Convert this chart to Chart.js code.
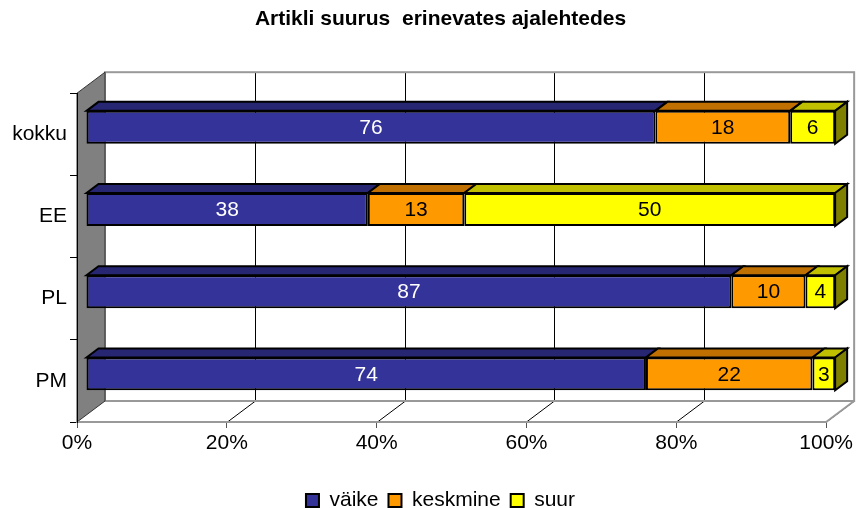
<!DOCTYPE html>
<html>
<head>
<meta charset="utf-8">
<script src="https://cdn.jsdelivr.net/npm/chart.js@4.4.1/dist/chart.umd.min.js"></script>
<style>
body { margin: 0; background: #fff; }
</style>
</head>
<body>
<canvas id="chart" width="856" height="508"></canvas>
<script>
// === Andmed ===
const categories = ["kokku", "EE", "PL", "PM"];
const seriesNames = ["väike", "keskmine", "suur"];
const vaike = [76, 38, 87, 74];
const keskmine = [18, 13, 10, 22];
const suur = [6, 50, 4, 3];
const xTicks = [0, 20, 40, 60, 80, 100];

// värvid: esikülg, pealmine külg, parem külg
const frontColors = ["#333399", "#FF9900", "#FFFF00"];
const topColors = ["#262673", "#C07000", "#C0C000"];
const sideColors = ["#1A1A4D", "#804B00", "#808000"];

const FONT = "'Liberation Sans', Arial, sans-serif";

// 100% tulbad: iga rida jagatakse oma summaga
const raw = [vaike, keskmine, suur];
const rowSum = categories.map((_, i) => raw.reduce((s, arr) => s + arr[i], 0));
const pct = raw.map(arr => arr.map((v, i) => v / rowSum[i] * 100));

// === 3D sügavus ===
const WALL = { dx: 28, dy: -21 };
const BAR_SHIFT = { dx: 9, dy: -7 };
const BAR_DEPTH = { dx: 12, dy: -9 };
const TITLE_SHIFT = 27; // pealkiri ja legend veidi paremale

function poly(ctx, pts, fill, stroke, lw) {
	ctx.beginPath();
	ctx.moveTo(pts[0][0], pts[0][1]);
	for (let k = 1; k < pts.length; k++) ctx.lineTo(pts[k][0], pts[k][1]);
	ctx.closePath();
	if (fill) { ctx.fillStyle = fill; ctx.fill(); }
	if (stroke) { ctx.strokeStyle = stroke; ctx.lineWidth = lw || 1; ctx.stroke(); }
}

const box3d = {
	id: "box3d",
	afterLayout(chart) {
		[chart.titleBlock, chart.legend].forEach((b) => {
			if (!b) return;
			b.left += TITLE_SHIFT;
			b.right += TITLE_SHIFT;
		});
	},
	beforeDraw(chart) {
		const { ctx, chartArea: a, scales } = chart;
		const { dx, dy } = WALL;
		ctx.save();
		// tagasein
		ctx.fillStyle = "#fff";
		ctx.fillRect(a.left + dx, a.top + dy, a.right - a.left, a.bottom - a.top);
		// ruudujooned tagaseinal ja põrandal
		ctx.lineWidth = 1;
		ctx.strokeStyle = "#000";
		xTicks.forEach((t) => {
			const x = Math.round(scales.x.getPixelForValue(t)) + 0.5;
			if (t !== 0 && t !== 100) {
				ctx.beginPath();
				ctx.moveTo(x + dx, a.top + dy);
				ctx.lineTo(x + dx, a.bottom + dy);
				ctx.stroke();
			}
			if (t !== 0) {
				ctx.beginPath();
				ctx.moveTo(x, a.bottom);
				ctx.lineTo(x + dx, a.bottom + dy);
				ctx.stroke();
			}
		});
		ctx.strokeStyle = "#999";
		ctx.lineWidth = 2;
		ctx.strokeRect(a.left + dx, a.top + dy, a.right - a.left, a.bottom - a.top);
		// põranda parem serv
		ctx.beginPath();
		ctx.moveTo(a.right, a.bottom);
		ctx.lineTo(a.right + dx, a.bottom + dy);
		ctx.stroke();
		// külgsein
		poly(ctx, [
			[a.left, a.top],
			[a.left + dx, a.top + dy],
			[a.left + dx, a.bottom + dy],
			[a.left, a.bottom],
		], "#808080", "#333", 1);
		ctx.restore();
	},
	beforeDatasetsDraw(chart) {
		const ctx = chart.ctx;
		ctx.save();
		ctx.translate(BAR_SHIFT.dx, BAR_SHIFT.dy);
		const { dx, dy } = BAR_DEPTH;
		const last = chart.data.datasets.length - 1;
		chart.data.datasets.forEach((ds, di) => {
			chart.getDatasetMeta(di).data.forEach((bar) => {
				const p = bar.getProps(["x", "y", "base", "height"], true);
				const left = Math.min(p.x, p.base), right = Math.max(p.x, p.base);
				const top = p.y - p.height / 2, bottom = p.y + p.height / 2;
				poly(ctx, [
					[left, top], [left + dx, top + dy],
					[right + dx, top + dy], [right, top],
				], topColors[di], "#000", 2);
				if (di === last) {
					poly(ctx, [
						[right, top], [right + dx, top + dy],
						[right + dx, bottom + dy], [right, bottom],
					], sideColors[di], "#000", 2);
				}
			});
		});
	},
	afterDatasetsDraw(chart) {
		const ctx = chart.ctx;
		ctx.font = "21px " + FONT;
		ctx.textAlign = "center";
		ctx.textBaseline = "middle";
		chart.data.datasets.forEach((ds, di) => {
			chart.getDatasetMeta(di).data.forEach((bar, i) => {
				const p = bar.getProps(["x", "y", "base"], true);
				ctx.fillStyle = di === 0 ? "#fff" : "#000";
				ctx.fillText(String(raw[di][i]), (p.x + p.base) / 2, p.y + 1);
			});
		});
		ctx.restore();
	},
};

new Chart(document.getElementById("chart"), {
	type: "bar",
	data: {
		labels: categories,
		datasets: seriesNames.map((name, di) => ({
			label: name,
			data: pct[di],
			backgroundColor: frontColors[di],
			borderColor: "#000",
			borderWidth: 2,
			borderSkipped: false,
			categoryPercentage: 1,
			barPercentage: 0.4,
			clip: false,
		})),
	},
	plugins: [box3d],
	options: {
		indexAxis: "y",
		responsive: false,
		animation: false,
		layout: { padding: { left: 0, right: 29, top: 0, bottom: -13 } },
		plugins: {
			tooltip: { enabled: false },
			title: {
				display: true,
				text: "Artikli suurus  erinevates ajalehtedes",
				color: "#000",
				font: { family: FONT, size: 21, weight: "bold", lineHeight: 1.2 },
				padding: { top: 7, bottom: 61 },
			},
			legend: {
				position: "bottom",
				labels: {
					color: "#000",
					font: { family: FONT, size: 21 },
					boxWidth: 13,
					boxHeight: 13,
					padding: 10,
				},
			},
		},
		scales: {
			x: {
				stacked: true,
				min: 0,
				max: 100,
				afterFit: (s) => { s.height = 58; },
				afterBuildTicks: (s) => { s.ticks = xTicks.map((v) => ({ value: v })); },
				ticks: {
					color: "#000",
					font: { family: FONT, size: 21 },
					padding: 3,
					maxRotation: 0,
					callback: (v) => v + "%",
				},
				grid: { drawOnChartArea: false, drawTicks: true, tickLength: 6, color: "#555" },
				border: { display: true, color: "#999", width: 2 },
			},
			y: {
				stacked: true,
				afterFit: (s) => { s.width = 77; },
				ticks: {
					color: "#000",
					font: { family: FONT, size: 21 },
					padding: 3,
				},
				grid: { offset: true, drawOnChartArea: false, drawTicks: true, tickLength: 7, color: "#000" },
				border: { display: true, color: "#000", width: 1 },
			},
		},
	},
});
</script>
</body>
</html>
